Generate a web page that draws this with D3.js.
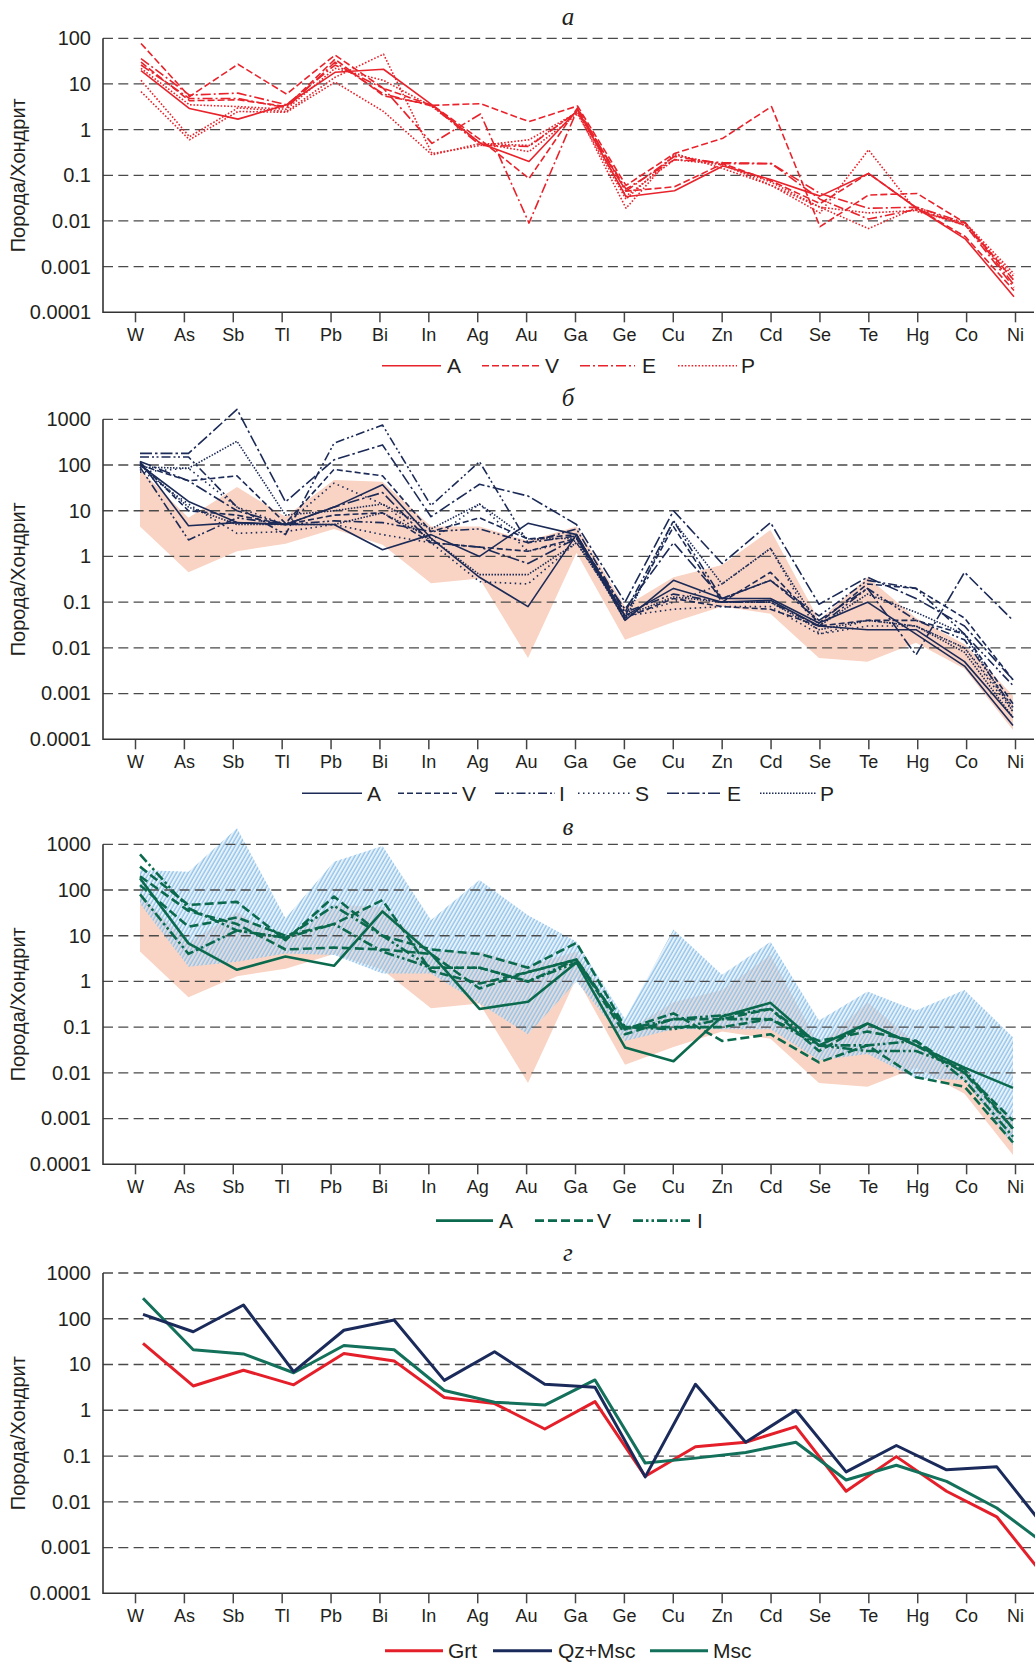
<!DOCTYPE html>
<html><head><meta charset="utf-8">
<script src="https://cdn.jsdelivr.net/npm/d3@7"></script>
<style>
body{margin:0;background:#fff}
svg{display:block}
text{font-family:"Liberation Sans",Arial,Helvetica,sans-serif;fill:#231f20}
.ttl{font-family:"Liberation Serif","Times New Roman",serif;font-style:italic}
</style></head>
<body><svg id="c" width="1035" height="1662"></svg>
<script>
// ---------- data ----------
const elements = ["W","As","Sb","Tl","Pb","Bi","In","Ag","Au","Ga","Ge","Cu","Zn","Cd","Se","Te","Hg","Co","Ni"];
const yTicks3 = [1000,100,10,1,0.1,0.01,0.001,0.0001];
const yLabels3 = ["1000","100","10","1","0.1","0.01","0.001","0.0001"];
const yTicks2 = [100,10,1,0.1,0.01,0.001,0.0001];
const yLabels2 = ["100","10","1","0.1","0.01","0.001","0.0001"];

// panel а (red)
const aA1 = [19.6,2.9,1.7,3.5,18,21,3.5,0.5,0.2,2.7,0.034,0.046,0.16,0.08,0.035,0.11,0.019,0.004,0.00022];
const aV1 = [77,5.3,27,6,43,8,3.4,3.7,1.5,3.3,0.06,0.3,0.65,3.2,0.0075,0.037,0.04,0.009,0.0005];
const aV2 = [30,4.3,4.5,3.2,35,5.5,3.5,0.6,0.085,3,0.045,0.056,0.18,0.075,0.024,0.11,0.019,0.0045,0.0003];
const aE1 = [36,5.7,6.3,3.5,26,8,0.5,2.2,0.009,2.8,0.05,0.22,0.19,0.18,0.04,0.019,0.02,0.009,0.0004];
const aE2 = [26,4.8,4.8,3,30,6,3.3,0.45,0.43,2.5,0.045,0.26,0.18,0.18,0.03,0.011,0.018,0.008,0.00035];
const aP1 = [12,0.7,3,2.5,14,45,0.3,0.45,0.6,2.4,0.019,0.3,0.14,0.06,0.015,0.36,0.016,0.009,0.0007];
const aP2 = [6.8,0.6,2.5,2.4,11,2.5,0.28,0.5,0.33,2.2,0.03,0.28,0.17,0.07,0.02,0.0068,0.02,0.008,0.0006];
const aP3 = [22,3.5,3.2,2.8,22,12,3.2,0.5,0.45,2.5,0.035,0.22,0.17,0.06,0.02,0.015,0.017,0.008,0.0005];

// panel б (navy)
const bA1 = [120,4.7,5.5,5,12,37,2.5,0.35,0.08,3,0.04,0.3,0.12,0.12,0.035,0.1,0.02,0.004,0.0002];
const bA2 = [100,16,5.5,5,5,1.4,3,1,5.3,3,0.05,0.2,0.1,0.11,0.03,0.025,0.025,0.005,0.0003];
const bV1 = [100,45,58,5.3,80,58,3.5,7,2.4,3,0.05,4.5,0.1,0.45,0.035,0.25,0.2,0.045,0.002];
const bV2 = [110,10,8,5,8,9,2,1.6,1.3,2.5,0.045,0.12,0.08,0.07,0.03,0.04,0.04,0.02,0.0006];
const bI1 = [150,150,12,3,300,750,13,118,2,4,0.06,6,0.12,0.3,0.05,0.3,0.2,0.02,0.0015];
const bI2 = [90,2.3,7,5,6,5.5,3.5,4,2,2.8,0.06,0.15,0.1,0.1,0.03,0.2,0.04,0.015,0.0005];
const bS1 = [80,14,3.2,3.5,5,3,2,0.28,0.25,2,0.05,0.07,0.08,0.08,0.02,0.03,0.03,0.01,0.0004];
const bS2 = [70,85,12,5,40,14,2.2,14,1.3,2.2,0.05,0.1,0.25,1.5,0.02,0.04,0.03,0.01,0.0005];
const bE1 = [180,180,1650,15.6,130,275,7.4,38,21,5,0.1,10,0.7,5.5,0.09,0.35,0.12,0.03,0.002];
const bE2 = [120,45,10,5,12,25,2,1.6,0.7,2.5,0.07,2,0.12,0.3,0.04,0.2,0.007,0.45,0.04];
const bP1 = [90,85,330,8,10,14,4,14,2.4,2.5,0.04,6,0.25,1.5,0.03,0.15,0.06,0.02,0.0004];
const bP2 = [100,12,5,5,5,9,2.5,0.4,0.4,2,0.05,0.13,0.1,0.1,0.025,0.04,0.03,0.008,0.0003];

// panel в (green)
const cA1 = [180,6.8,1.8,3.5,2.2,34,4,0.25,0.36,2.6,0.036,0.018,0.17,0.34,0.04,0.12,0.04,0.013,0.0047];
const cV1 = [325,47,55,8,72,10,5,4,2,7,0.1,0.1,0.1,0.15,0.05,0.08,0.05,0.01,0.0006];
const cV2 = [128,15.7,25,10,18,60,1.7,0.9,1.6,3,0.09,0.2,0.05,0.07,0.017,0.04,0.008,0.005,0.0003];
const cV3 = [200,35,18,5,5.5,5,4,0.7,1.6,3,0.07,0.15,0.15,0.25,0.03,0.12,0.04,0.01,0.0009];
const cI1 = [600,40,13,9,45,10,2,2,1,3,0.09,0.15,0.18,0.25,0.04,0.03,0.03,0.012,0.0006];
const cI2 = [80,4,13,9,18,4.5,2,2,1,2.6,0.1,0.09,0.15,0.15,0.04,0.04,0.05,0.007,0.0004];

// ranges (shaded fields)
const rangeA_lo = [4.5,0.45,1.3,1.9,4,1.8,0.26,0.33,0.006,1.2,0.015,0.037,0.08,0.056,0.006,0.005,0.013,0.0035,0.00016];
const rangeA_hi = [80,7,33,7.4,47,43,4.5,4.5,2.2,4.5,0.08,0.35,0.65,3.8,0.04,0.35,0.045,0.012,0.0009];
const rangeB_lo = [50,2.1,2.7,4.1,3.8,1.5,1.5,0.33,0.07,1,0.05,0.09,0.09,0.09,0.019,0.026,0.0075,0.007,0.00026];
const rangeB_hi = [275,250,2240,24,417,920,22,166,28,7.4,0.15,13.7,1.4,7.4,0.14,0.6,0.23,0.65,0.06];

// panel г
const gGrt = [29,3.4,7.5,3.6,17.4,12,1.9,1.4,0.39,1.55,0.036,0.16,0.2,0.44,0.017,0.097,0.017,0.0047,0.0002];
const gQzMsc = [125,52,200,7,56,94,4.5,19,3.7,3.2,0.035,3.7,0.2,1.0,0.045,0.17,0.05,0.058,0.0024];
const gMsc = [280,21,17,6.6,26,21,2.7,1.5,1.3,4.6,0.07,0.09,0.12,0.2,0.03,0.063,0.028,0.0073,0.0011];

// ---------- styles ----------
const RED="#e8232b", NAVY="#1b2a57", GREEN="#0b6a4d", GREEN2="#13705a", ORANGE="#f9d3c3";
const dashA = {A:null, V:"7,3", E:"10,3,2,3", P:"1.6,1.8"};
const dashB = {A:null, V:"6,3", I:"9,3,2,2.5,2,3", S:"1.5,3.5", E:"12,3,2.5,3", P:"1.5,1.5"};
const dashC = {A:null, V:"9,4", I:"10,3,2.5,3,2.5,3"};

const svg = d3.select("#c");
const defs = svg.append("defs");
const pat = defs.append("pattern").attr("id","hatch").attr("patternUnits","userSpaceOnUse")
  .attr("width",3.4).attr("height",3.4).attr("patternTransform","rotate(30)");
pat.append("rect").attr("width",3.4).attr("height",3.4).attr("fill","#cfe5f6").attr("fill-opacity",0.5);
pat.append("line").attr("x1",1).attr("y1",-1).attr("x2",1).attr("y2",4.4).attr("stroke","#8cc0e9").attr("stroke-width",1.3);

const X0 = 103, XG = 1032, XA = 1034;
const xTick = d3.scalePoint().domain(elements).range([135,1015]);

function drawPanel(p){
  const y = d3.scaleLog().domain([1e-4,p.ymax]).range([p.bottom,p.top]);
  const xl = d3.scalePoint().domain(elements).range(p.lineRange);
  const g = svg.append("g");
  (p.areas||[]).forEach(a=>{
    const ar = d3.area().x((d,i)=>xl(elements[i])).y0((d,i)=>y(a.lo[i])).y1((d,i)=>y(a.hi[i]));
    g.append("path").datum(a.lo).attr("d",ar).attr("fill",a.fill).attr("stroke","none");
  });
  // grid
  g.selectAll("line.grid").data(p.ticks.filter(t=>t>1e-4)).join("line").attr("class","grid")
    .attr("x1",X0).attr("x2",XG).attr("y1",d=>y(d)).attr("y2",d=>y(d))
    .attr("stroke","#4a4a4a").attr("stroke-width",1.3).attr("stroke-dasharray","10,5.3");
  // y axis
  const ya = g.append("g").attr("transform",`translate(${X0},0)`)
    .call(d3.axisLeft(y).tickValues(p.ticks).tickFormat((d,i)=>p.labels[i]).tickSize(0).tickPadding(12));
  ya.select(".domain").remove();
  ya.selectAll("text").attr("font-size",20).attr("font-family",null).attr("fill","#231f20");
  // x axis
  const xa = g.append("g").attr("transform",`translate(0,${p.bottom})`)
    .call(d3.axisBottom(xTick).tickSize(10));
  xa.select(".domain").remove();
  xa.selectAll(".tick line").attr("stroke","#444").attr("stroke-width",1.5);
  xa.selectAll("text").attr("font-size",18).attr("font-family",null).attr("fill","#231f20").attr("y",28.5).attr("dy",0);
  g.append("line").attr("x1",X0).attr("x2",X0).attr("y1",p.top).attr("y2",p.bottom+0.75).attr("stroke","#333").attr("stroke-width",1.6);
  g.append("line").attr("x1",X0).attr("x2",XA).attr("y1",p.bottom).attr("y2",p.bottom).attr("stroke","#333").attr("stroke-width",1.6);
  // y title
  g.append("text").attr("transform",`translate(24.5,${(p.top+p.bottom)/2}) rotate(-90)`)
    .attr("text-anchor","middle").attr("font-size",20).text("Порода/Хондрит");
  // panel title
  g.append("text").attr("class","ttl").attr("x",568).attr("y",p.titleY).attr("text-anchor","middle")
    .attr("font-size",25).text(p.title);
  // lines
  const ln = d3.line().x((d,i)=>xl(elements[i])).y(d=>y(d));
  p.series.forEach(s=>{
    g.append("path").datum(s.values).attr("d",ln).attr("fill","none")
      .attr("stroke",s.color).attr("stroke-width",p.lw).attr("stroke-linejoin","round")
      .attr("stroke-dasharray",s.dash);
  });
  // legend
  p.legend.forEach(l=>{
    g.append("line").attr("x1",l.x1).attr("x2",l.x2).attr("y1",p.legendY).attr("y2",p.legendY)
      .attr("stroke",l.color).attr("stroke-width",p.legendLw||p.lw).attr("stroke-dasharray",l.dash);
    g.append("text").attr("x",l.tx).attr("y",p.legendY+7.5).attr("font-size",21).text(l.label);
  });
}

// panel а
drawPanel({
  ymax:100, top:38.3, bottom:312.3, ticks:yTicks2, labels:yLabels2, title:"а", titleY:25,
  lineRange:[141,1014], lw:1.6,
  series:[
    {values:aP1,color:RED,dash:dashA.P},{values:aP2,color:RED,dash:dashA.P},{values:aP3,color:RED,dash:dashA.P},
    {values:aE1,color:RED,dash:dashA.E},{values:aE2,color:RED,dash:dashA.E},
    {values:aV1,color:RED,dash:dashA.V},{values:aV2,color:RED,dash:dashA.V},
    {values:aA1,color:RED,dash:dashA.A}
  ],
  legendY:365.7,
  legend:[
    {label:"A",x1:382,x2:441,tx:447,color:RED,dash:dashA.A},
    {label:"V",x1:482,x2:540,tx:545,color:RED,dash:dashA.V},
    {label:"E",x1:580,x2:635,tx:642,color:RED,dash:dashA.E},
    {label:"P",x1:678,x2:737,tx:741,color:RED,dash:dashA.P}
  ]
});

// panel б
drawPanel({
  ymax:1000, top:419.3, bottom:739.3, ticks:yTicks3, labels:yLabels3, title:"б", titleY:406,
  lineRange:[140,1013], lw:1.6,
  areas:[{lo:rangeA_lo,hi:rangeA_hi,fill:ORANGE}],
  series:[
    {values:bP1,color:NAVY,dash:dashB.P},{values:bP2,color:NAVY,dash:dashB.P},
    {values:bS1,color:NAVY,dash:dashB.S},{values:bS2,color:NAVY,dash:dashB.S},
    {values:bE1,color:NAVY,dash:dashB.E},{values:bE2,color:NAVY,dash:dashB.E},
    {values:bI1,color:NAVY,dash:dashB.I},{values:bI2,color:NAVY,dash:dashB.I},
    {values:bV1,color:NAVY,dash:dashB.V},{values:bV2,color:NAVY,dash:dashB.V},
    {values:bA1,color:NAVY,dash:dashB.A},{values:bA2,color:NAVY,dash:dashB.A}
  ],
  legendY:793.3,
  legend:[
    {label:"A",x1:302,x2:362,tx:367,color:NAVY,dash:dashB.A},
    {label:"V",x1:398,x2:457,tx:462,color:NAVY,dash:dashB.V},
    {label:"I",x1:495,x2:555,tx:559,color:NAVY,dash:dashB.I},
    {label:"S",x1:578,x2:633,tx:635,color:NAVY,dash:dashB.S},
    {label:"E",x1:667,x2:723,tx:727,color:NAVY,dash:dashB.E},
    {label:"P",x1:760,x2:817,tx:820,color:NAVY,dash:dashB.P}
  ]
});

// panel в
drawPanel({
  ymax:1000, top:844.3, bottom:1164.3, ticks:yTicks3, labels:yLabels3, title:"в", titleY:835,
  lineRange:[140,1013], lw:2.6, legendLw:2.8,
  areas:[{lo:rangeA_lo,hi:rangeA_hi,fill:ORANGE},{lo:rangeB_lo,hi:rangeB_hi,fill:"url(#hatch)"}],
  series:[
    {values:cI1,color:GREEN,dash:dashC.I},{values:cI2,color:GREEN,dash:dashC.I},
    {values:cV1,color:GREEN,dash:dashC.V},{values:cV2,color:GREEN,dash:dashC.V},{values:cV3,color:GREEN,dash:dashC.V},
    {values:cA1,color:GREEN,dash:dashC.A}
  ],
  legendY:1220.7,
  legend:[
    {label:"A",x1:436,x2:493,tx:499,color:GREEN,dash:dashC.A},
    {label:"V",x1:535,x2:593,tx:597,color:GREEN,dash:dashC.V},
    {label:"I",x1:633,x2:690,tx:697,color:GREEN,dash:dashC.I}
  ]
});

// panel г
drawPanel({
  ymax:1000, top:1273, bottom:1593.3, ticks:yTicks3, labels:yLabels3, title:"г", titleY:1261,
  lineRange:[143,1047], lw:3,
  series:[
    {values:gGrt,color:"#e41f2a",dash:null},
    {values:gMsc,color:GREEN2,dash:null},
    {values:gQzMsc,color:"#1a2a5a",dash:null}
  ],
  legendY:1650.7,
  legend:[
    {label:"Grt",x1:385,x2:443,tx:448,color:"#e41f2a",dash:null},
    {label:"Qz+Msc",x1:493,x2:552,tx:558,color:"#1a2a5a",dash:null},
    {label:"Msc",x1:650,x2:708,tx:713,color:GREEN2,dash:null}
  ]
});
</script>
</body></html>
